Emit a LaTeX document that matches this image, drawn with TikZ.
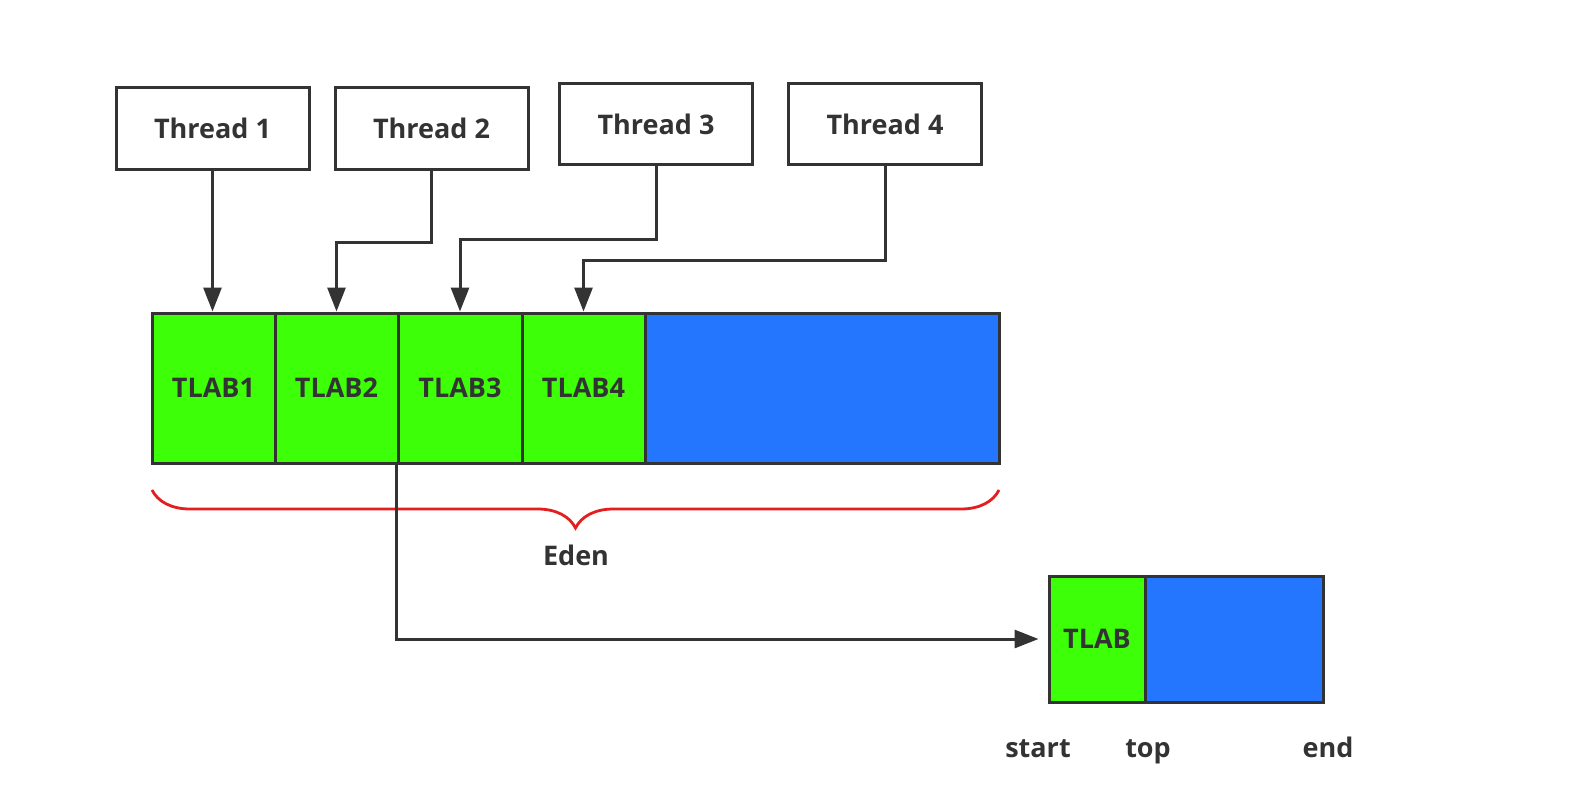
\documentclass[tikz,border=0pt]{standalone}
\usepackage{fontspec}
\setmainfont{Open Sans}
\usetikzlibrary{arrows.meta,decorations.pathreplacing}
\definecolor{cellgreen}{RGB}{60,255,8}
\definecolor{cellblue}{RGB}{36,118,255}
\definecolor{ink}{RGB}{51,51,51}
\definecolor{bracered}{RGB}{228,30,30}
\begin{document}
\begin{tikzpicture}[x=0.5pt,y=-0.5pt,
  txt/.style={font=\fontsize{13.5}{16}\selectfont\bfseries, text=ink},
  thread/.style={draw=ink, line width=1.5pt, fill=white, minimum width=96.5pt,
                 minimum height=40.5pt, inner sep=0pt, txt},
  cell/.style={draw=ink, line width=1.5pt, fill=cellgreen, minimum height=75pt,
               inner sep=0pt, txt},
  freespace/.style={draw=ink, line width=1.5pt, fill=cellblue, inner sep=0pt},
  arr/.style={draw=ink, line width=1.5pt, -{Triangle[length=12pt,width=9pt]}},
  lbl/.style={txt, anchor=base},
  ]
\useasboundingbox[fill=white] (0,0) rectangle (1572,792);

% threads
\node[thread] (T1) at (212.5,128.5) {Thread 1};
\node[thread] (T2) at (431.5,128.5) {Thread 2};
\node[thread] (T3) at (656,124) {Thread 3};
\node[thread] (T4) at (885,124) {Thread 4};

% eden space with the per-thread buffers
\node[freespace, minimum width=177pt, minimum height=75pt] (E) at (822,388) {};
\node[cell, minimum width=61.5pt] (L1) at (213.5,388) {TLAB1};
\node[cell, minimum width=61.5pt] (L2) at (336.5,388) {TLAB2};
\node[cell, minimum width=62pt]   (L3) at (460,388) {TLAB3};
\node[cell, minimum width=61.5pt] (L4) at (583.5,388) {TLAB4};

% thread -> buffer connectors
\draw[arr] (T1.south) -- (T1.south |- L1.north);
\draw[arr] (T2.south) -- ++(0,72) -| (L2.north);
\draw[arr] (T3.south) -- ++(0,73) -| (L3.north);
\draw[arr] (T4.south) -- ++(0,94) -| (L4.north);

% brace under eden
\draw[bracered, line width=1.4pt, decorate,
      decoration={brace, mirror, amplitude=19pt}] (152,490) -- (999,490);
\node[lbl] (eden) at (576,565) {Eden};

% single buffer detail
\node[freespace, minimum width=89pt, minimum height=63pt] (SF) at (1234,639) {};
\node[cell, minimum width=48pt, minimum height=63pt] (S) at (1097,639) {TLAB};
\draw[arr] (L3.south west) |- ([xshift=-4.5pt]S.west);

\node[lbl] (start) at (1038,757) {start};
\node[lbl] (top)   at (1148,757) {top};
\node[lbl] (end)   at (1328,757) {end};
\end{tikzpicture}
\end{document}
